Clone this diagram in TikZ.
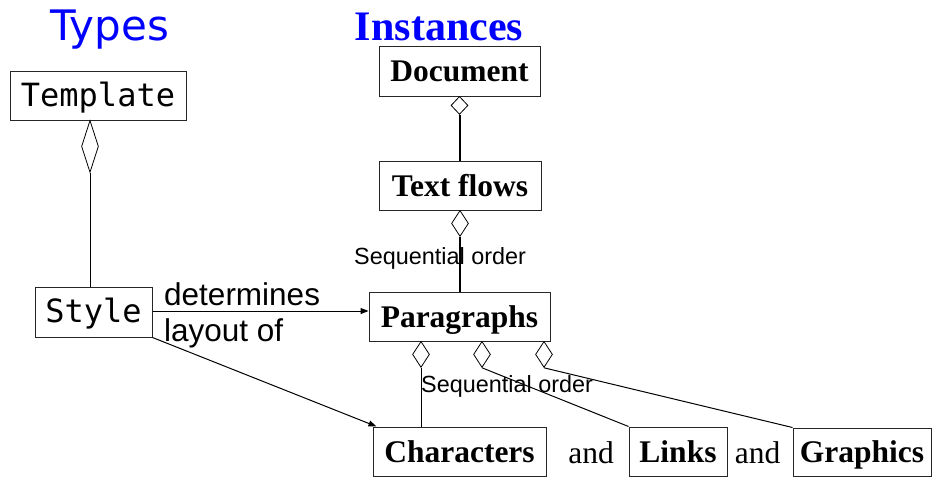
\documentclass[tikz,border=0pt]{standalone}
\usepackage{fontspec}
\setmainfont{Liberation Serif}
\newfontfamily\lsans{Liberation Sans}
\newfontfamily\dvsans{DejaVu Sans}
\newfontfamily\dvmono{DejaVu Sans Mono}
\usetikzlibrary{shapes.geometric,arrows.meta}
\definecolor{hdblue}{RGB}{0,0,255}
\tikzset{
  box/.style={draw=black!85, line width=1pt, inner sep=0pt, text height=21pt, text depth=0pt},
  inst/.style={box, font=\fontsize{31.5}{36}\selectfont\bfseries},
  typ/.style={box, font=\fontsize{32}{36}\selectfont\dvmono},
  agg/.style={diamond, draw=black, line width=0.8pt, inner sep=0pt, minimum width=17pt, anchor=north},
  conn/.style={line width=1pt},
  thickconn/.style={line width=2pt},
  arr/.style={line width=1pt, -{Triangle[length=8pt,width=6pt]}},
  lbl/.style={inner sep=0pt, font=\fontsize{31.5}{36}\selectfont\lsans},
  seq/.style={inner sep=0pt, font=\fontsize{23.4}{28}\selectfont\lsans},
  andtxt/.style={inner sep=0pt, font=\fontsize{31.5}{36}\selectfont}
}
\begin{document}
\begin{tikzpicture}[x=1pt,y=-1pt]
\useasboundingbox (0,0) rectangle (932,477);
% headings
\node[anchor=base, inner sep=0pt, text=hdblue, font=\fontsize{42}{48}\selectfont\dvsans] (types) at (110,40.5) {Types};
\node[anchor=base, inner sep=0pt, text=hdblue, font=\fontsize{42}{48}\selectfont\bfseries] (instances) at (439,40) {Instances};
% type boxes
\node[typ, minimum width=176pt, minimum height=49pt] (template) at (98,95.5) {Template};
\node[typ, minimum width=117pt, minimum height=50pt] (style) at (93.5,312) {Style};
% instance boxes
\node[inst, minimum width=161pt, minimum height=50pt] (document) at (459.5,71) {Document};
\node[inst, minimum width=162pt, minimum height=49pt] (textflows) at (460,185.5) {Text flows};
\node[inst, minimum width=181pt, minimum height=49pt] (paragraphs) at (459.5,316.5) {Paragraphs};
\node[inst, minimum width=173pt, minimum height=49pt] (characters) at (459.5,451.5) {Characters};
\node[inst, minimum width=98pt, minimum height=49pt] (links) at (678,451.5) {Links};
\node[inst, minimum width=138pt, minimum height=48pt] (graphics) at (862,452) {Graphics};
\node[andtxt, anchor=base] (and1) at (591,463) {and};
\node[andtxt, anchor=base] (and2) at (757.5,463) {and};
% aggregation diamonds
\node[agg, minimum height=52pt] (dtemp) at (90,120) {};
\node[agg, minimum height=18pt] (ddoc) at (459.5,96) {};
\node[agg, minimum height=26pt] (dtf) at (460,210) {};
\node[agg, minimum height=26pt] (dp1) at (421,341) {};
\node[agg, minimum height=26pt] (dp2) at (482,341) {};
\node[agg, minimum height=26pt] (dp3) at (544,341) {};
% connectors
\draw[conn] (dtemp.south) -- (dtemp.south |- style.north);
\draw[thickconn] (ddoc.south) -- (ddoc.south |- textflows.north);
\draw[thickconn] (dtf.south) -- (dtf.south |- paragraphs.north);
\draw[conn] (dp1.south) -- (dp1.south |- characters.north);
\draw[conn] (dp2.south) -- (links.north west);
\draw[conn] (dp3.south) -- (graphics.north west);
\draw[arr] ([yshift=1pt]style.east) -- ([yshift=1pt]style.east -| paragraphs.west);
\draw[arr] (style.south east) -- ([xshift=4pt]characters.north west);
% labels
\node[lbl, anchor=base west] (det) at (164,305) {determines};
\node[lbl, anchor=base west] (lay) at (164,341) {layout of};
\node[seq, anchor=base west] (seq1) at (354,264) {Sequential order};
\node[seq, anchor=base west] (seq2) at (421,392.5) {Sequential order};
\end{tikzpicture}
\end{document}
